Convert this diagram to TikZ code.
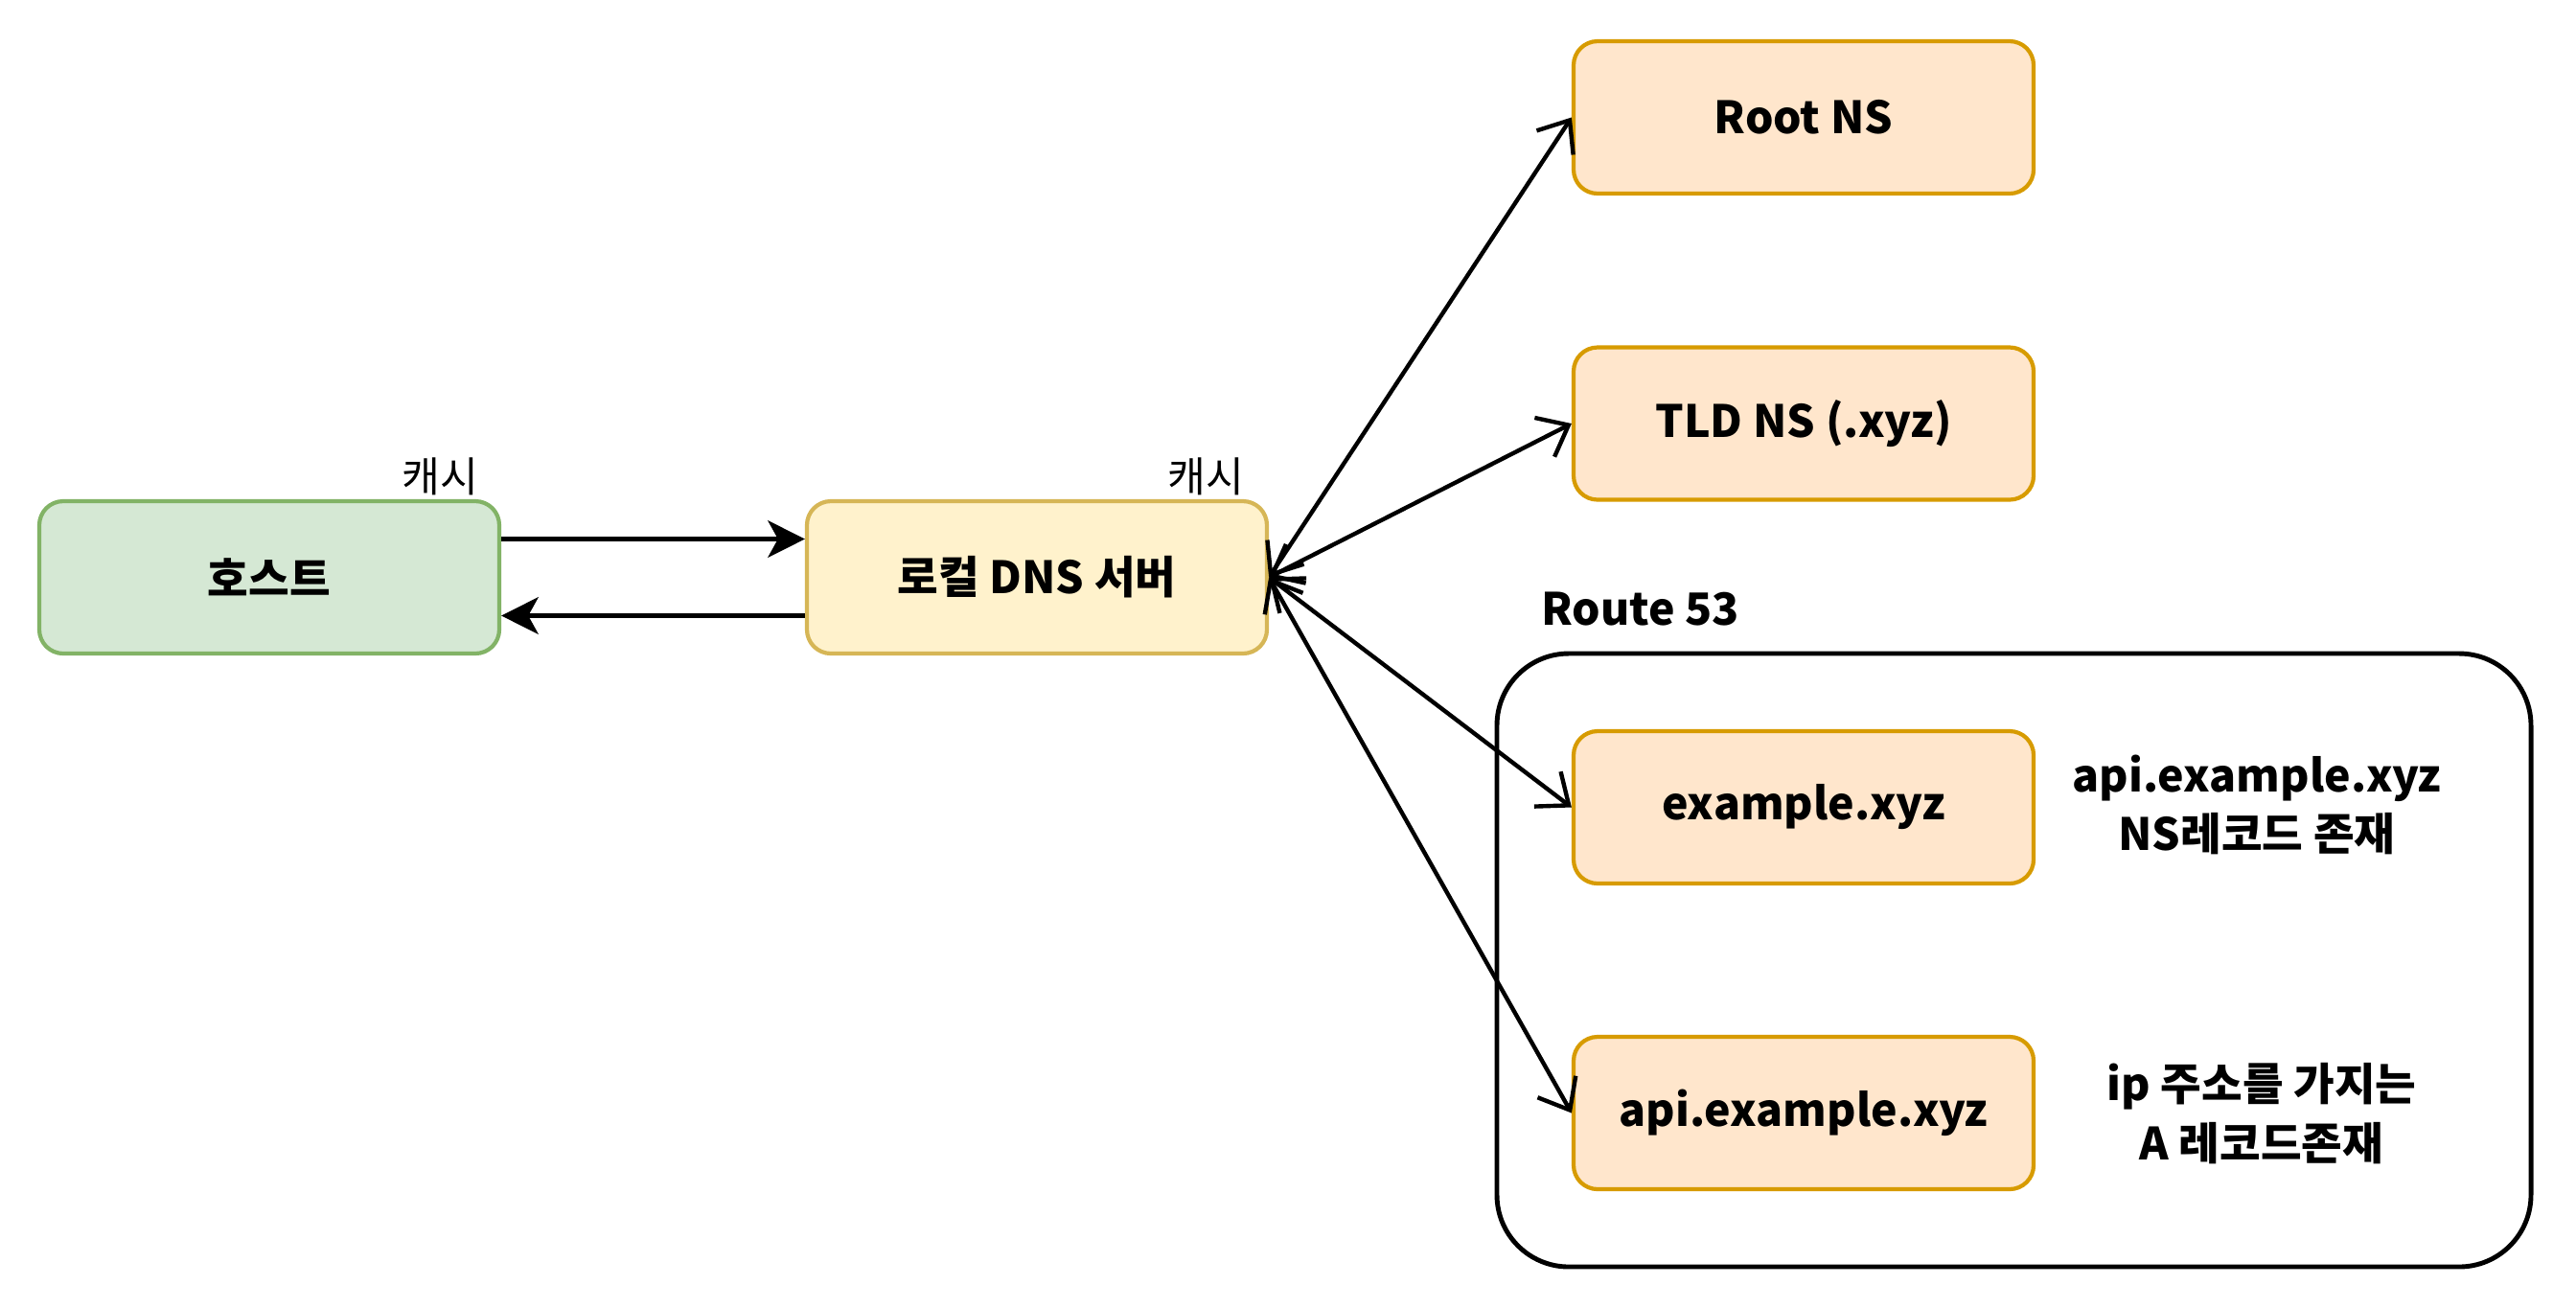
\documentclass[tikz,border=0pt]{standalone}
\usepackage{fontspec}
\setmainfont{Noto Sans CJK KR}
\usepackage{tikz}
\usetikzlibrary{calc,positioning,arrows.meta}

\definecolor{hostfill}{HTML}{D5E8D4}
\definecolor{hostline}{HTML}{82B366}
\definecolor{dnsfill}{HTML}{FFF2CC}
\definecolor{dnsline}{HTML}{D6B656}
\definecolor{nsfill}{HTML}{FFE6CC}
\definecolor{nsline}{HTML}{D79B00}

\begin{document}
\begin{tikzpicture}[lbl/.style={inner sep=1pt, font=\fontsize{12.3}{14}\selectfont},
  note/.style={align=center, font=\fontsize{13.2}{17.5}\selectfont\bfseries},
  query/.style={line width=1.25pt, {Straight Barb[length=8pt,width=13pt]}-{Straight Barb[length=8pt,width=13pt]}},
  reply/.style={line width=1.25pt, -{Stealth[length=11pt,width=11pt,inset=3pt]}}]
\tikzstyle{srv}=[draw, rounded corners=0.25cm, line width=1.2pt, minimum width=4.8cm, minimum height=1.59cm, inner sep=0pt, font=\fontsize{13.2}{16}\selectfont\bfseries]
\useasboundingbox (0,0) rectangle (26.88,-13.64);
% route 53 zone
\draw[line width=1.4pt, rounded corners=0.75cm] (15.62,-6.82) rectangle (26.41,-13.22);
\node[note, anchor=west] (r53) at (15.96,-6.36) {Route 53};
% servers
\node[srv, fill=hostfill, draw=hostline] (host) at (2.81,-6.025) {호스트};
\node[srv, fill=dnsfill, draw=dnsline] (local) at (10.82,-6.025) {로컬 DNS 서버};
\node[srv, fill=nsfill, draw=nsline] (root) at (18.82,-1.225) {Root NS};
\node[srv, fill=nsfill, draw=nsline] (tld) at (18.82,-4.42) {TLD NS (.xyz)};
\node[srv, fill=nsfill, draw=nsline] (ex) at (18.82,-8.425) {example.xyz};
\node[srv, fill=nsfill, draw=nsline] (api) at (18.82,-11.615) {api.example.xyz};
\node[lbl, anchor=south east] (c1) at ([xshift=-0.2cm]host.north east) {캐시};
\node[lbl, anchor=south east] (c2) at ([xshift=-0.22cm]local.north east) {캐시};
\node[note] (n1) at (23.55,-8.4) {api.example.xyz\\NS레코드 존재};
\node[note] (n2) at (23.6,-11.62) {ip 주소를 가지는\\A 레코드존재};
% host <-> local
\draw[reply] ([yshift=0.4cm]host.east) -- ([yshift=0.4cm]local.west);
\draw[reply] ([yshift=-0.4cm]local.west) -- ([yshift=-0.4cm]host.east);
\foreach \s in {root,tld,ex,api}{
\draw[query] (local.east) -- (\s.west);
}
\end{tikzpicture}
\end{document}
